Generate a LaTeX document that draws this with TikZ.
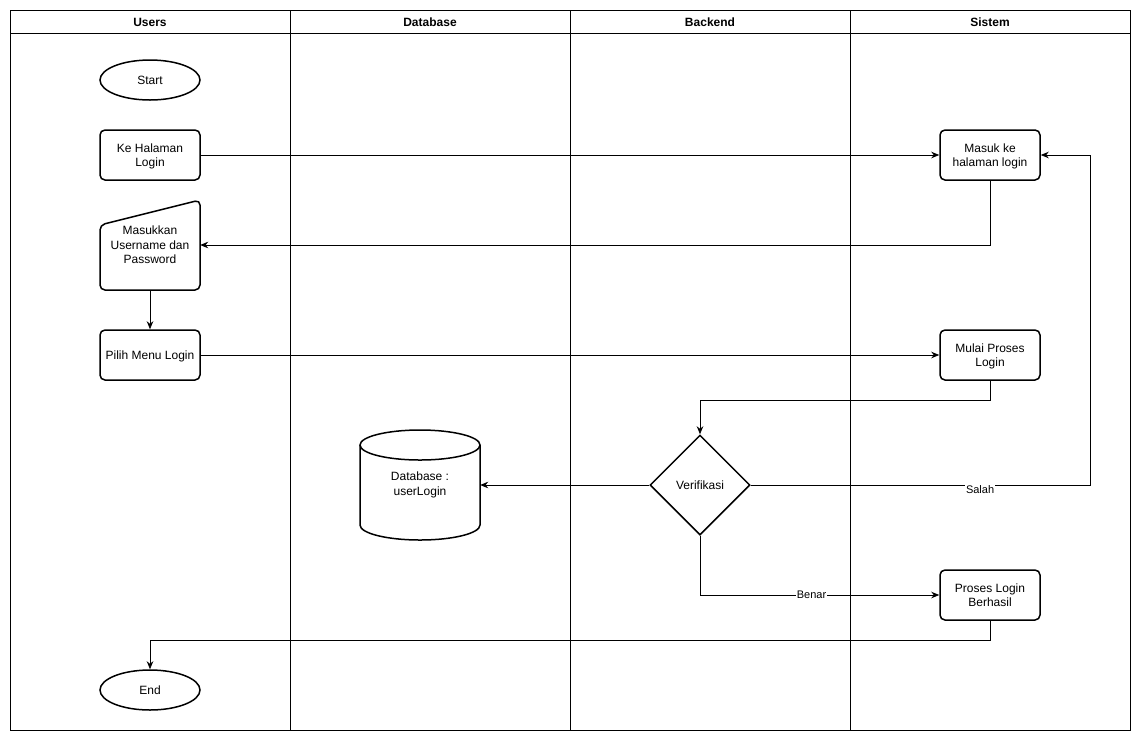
\documentclass[tikz,border=0pt]{standalone}
\usepackage{fontspec}
\setmainfont{Liberation Sans}
\usetikzlibrary{shapes.geometric,arrows.meta,calc}
\begin{document}
\begin{tikzpicture}[x=1pt,y=-1pt,
 txt/.style={font=\fontsize{12}{14.5}\selectfont},
 box/.style={txt,draw,line width=1.5pt,rounded corners=5pt,minimum width=100pt,minimum height=50pt,inner sep=0pt,align=center,text depth=0pt},
 term/.style={txt,draw,line width=1.5pt,ellipse,minimum width=100pt,minimum height=40pt,inner sep=0pt},
 dec/.style={txt,draw,line width=1.5pt,diamond,minimum width=100pt,minimum height=100pt,inner sep=0pt},
 arr/.style={-{Stealth[length=8pt,width=6.5pt]},line width=0.8pt},
 lbl/.style={fill=white,inner sep=1pt,font=\fontsize{11}{13}\selectfont},
 hdr/.style={font=\bfseries\fontsize{12}{14}\selectfont},
 lane/.style={line width=0.8pt}
]
\useasboundingbox (0,0) rectangle (1140,740);
% swimlanes
\draw[lane] (10,10) rectangle (1130,730);
\draw[lane] (10,33) -- (1130,33);
\draw[lane] (290,10) -- (290,730);
\draw[lane] (570,10) -- (570,730);
\draw[lane] (850,10) -- (850,730);
\node[hdr] (h1) at (150,22) {Users};
\node[hdr] (h2) at (430,22) {Database};
\node[hdr] (h3) at (710,22) {Backend};
\node[hdr] (h4) at (990,22) {Sistem};
% Users lane
\node[term] (start) at (150,80) {Start};
\node[box] (ke) at (150,155) {Ke Halaman\\Login};
\draw[line width=1.5pt,rounded corners=5pt] (100,225) -- (200,200) -- (200,290) -- (100,290) -- cycle;
\node[txt,align=center,minimum width=100pt,minimum height=90pt,inner sep=0pt] (mi) at (150,245) {Masukkan\\Username dan\\Password};
\node[box] (pilih) at (150,355) {Pilih Menu Login};
\node[term] (end) at (150,690) {End};
% Database lane
\filldraw[fill=white,line width=1.5pt] (360,445) -- (360,525) arc[start angle=180,end angle=0,x radius=60,y radius=15] -- (480,445);
\draw[line width=1.5pt] (420,445) ellipse [x radius=60,y radius=15];
\node[txt,align=center,minimum width=120pt,minimum height=110pt,inner sep=0pt] (db) at (420,485) {Database :\\userLogin};
% Backend lane
\node[dec] (verif) at (700,485) {Verifikasi};
% Sistem lane
\node[box] (masuk) at (990,155) {Masuk ke\\halaman login};
\node[box] (mulai) at (990,355) {Mulai Proses\\Login};
\node[box] (plb) at (990,595) {Proses Login\\Berhasil};
\coordinate (sr) at (1090,485);
% connectors
\draw[arr] (ke.east) -- (masuk.west);
\draw[arr] (masuk.south) |- (mi.east);
\draw[arr] (mi.south) -- (pilih.north);
\draw[arr] (pilih.east) -- (mulai.west);
\draw[arr] (mulai.south) -- ++(0,20) -| (verif.north);
\draw[arr] (verif.west) -- (db.east);
\draw[arr] (verif.east) -- node[lbl,pos=0.676,yshift=-5pt]{Salah} (sr) |- (masuk.east);
\draw[arr] (verif.south) |- node[lbl,pos=0.733]{Benar} (plb.west);
\draw[arr] (plb.south) -- ++(0,20) -| (end.north);
\end{tikzpicture}
\end{document}
